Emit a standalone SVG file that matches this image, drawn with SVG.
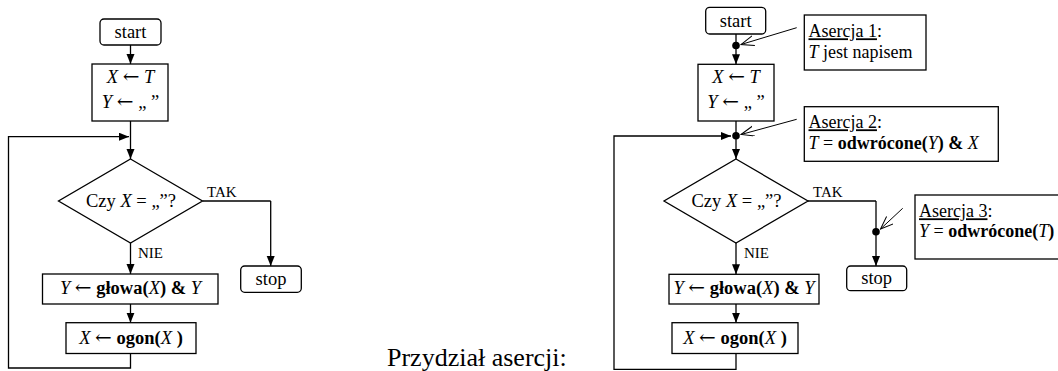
<svg xmlns="http://www.w3.org/2000/svg" width="1058" height="371" viewBox="0 0 1058 371">
<defs>
<marker id="ah" markerUnits="userSpaceOnUse" markerWidth="11" markerHeight="9" refX="10" refY="4" orient="auto">
<path d="M0,0 L10,4 L0,8 z" fill="#000"/>
</marker>
<marker id="oa" markerUnits="userSpaceOnUse" markerWidth="14" markerHeight="11" refX="13" refY="5" orient="auto">
<path d="M0,0 L13,5 L0,10" fill="none" stroke="#000" stroke-width="1"/>
</marker>
</defs>
<style>
text{font-family:"Liberation Serif","Times New Roman",serif;font-size:18.5px;fill:#000}
.c{text-anchor:middle}
.s{font-size:15px}
.a{font-size:18px}
.b{font-weight:bold}
.i{font-style:italic}
.u{text-decoration:underline}
.big{font-size:26px}
.arw{font-family:"DejaVu Serif","DejaVu Sans",serif;font-size:20px}
.n{fill:#fff;stroke:#000;stroke-width:1.3}
.ln{fill:none;stroke:#000;stroke-width:1.3}
.ar{marker-end:url(#ah)}
.pt{fill:none;stroke:#000;stroke-width:1;marker-end:url(#oa)}
</style>
<rect width="1058" height="371" fill="#fff"/>
<g id="connectors">
<path class="ln ar" d="M130.5,45 V64"/>
<path class="ln ar" d="M130.5,121 V159"/>
<path class="ln ar" d="M130.5,353.5 V368 H8.5 V136.7 H129"/>
<path class="ln" d="M202.5,201 H270.7"/>
<path class="ln ar" d="M270.7,201 V266"/>
<path class="ln ar" d="M130.5,243 V274"/>
<path class="ln ar" d="M130.5,304 V322.7"/>
<path class="ln ar" d="M736,34 V64.3"/>
<path class="ln ar" d="M736,121 V159"/>
<path class="ln ar" d="M736,353.5 V369.3 H614 V136 H731"/>
<path class="ln" d="M808,201 H876"/>
<path class="ln ar" d="M876,201 V266"/>
<path class="ln ar" d="M736,243 V274.3"/>
<path class="ln ar" d="M736,304 V322.7"/>
<circle cx="736" cy="45.5" r="3.8"/>
<circle cx="736" cy="135.7" r="3.8"/>
<circle cx="876" cy="231.7" r="3.8"/>
<path class="pt" d="M796.7,27.7 L741,44.5"/>
<path class="pt" d="M796.7,119.3 L741,134.5"/>
<path class="pt" d="M902.7,208.3 L880.5,229"/>
</g>
<g id="start1"><rect class="n" x="100" y="19" width="61" height="26" rx="4"/><text class="c" x="130.5" y="38">start</text></g>
<g id="init1"><rect class="n" x="92" y="64" width="76" height="57"/>
<text class="c" x="130.5" y="83"><tspan class="i">X</tspan> <tspan class="arw">←</tspan> <tspan class="i">T</tspan></text>
<text class="c" x="130.5" y="108"><tspan class="i">Y</tspan> <tspan class="arw">←</tspan> „ ”</text></g>
<g id="cond1"><path class="n" d="M130.5,159 L202.5,201 L130.5,243 L58.5,201 z"/>
<text class="c" x="131" y="207">Czy <tspan class="i">X</tspan> = „”?</text></g>
<g id="labels1"><text class="s" x="207" y="197">TAK</text><text class="s" x="138" y="258">NIE</text></g>
<g id="stop1"><rect class="n" x="240.7" y="266" width="60.6" height="26.3" rx="4"/><text class="c" x="271" y="285">stop</text></g>
<g id="head1"><rect class="n" x="42.5" y="274" width="175.5" height="30"/>
<text class="c" x="130.5" y="294"><tspan class="i">Y</tspan> <tspan class="arw">←</tspan> <tspan class="b">głowa(</tspan><tspan class="i">X</tspan><tspan class="b">) &amp; </tspan><tspan class="i">Y</tspan></text></g>
<g id="tail1"><rect class="n" x="66" y="322.7" width="130" height="30.8"/>
<text class="c" x="131" y="343.5"><tspan class="i">X</tspan> <tspan class="arw">←</tspan> <tspan class="b">ogon(</tspan><tspan class="i">X </tspan><tspan class="b">)</tspan></text></g>

<g id="caption"><text class="big" x="387" y="366">Przydział asercji:</text></g>

<g id="start2"><rect class="n" x="705.7" y="7.3" width="60" height="26.7" rx="4"/><text class="c" x="735.7" y="27">start</text></g>
<g id="init2"><rect class="n" x="698" y="64.3" width="76" height="56.7"/>
<text class="c" x="736" y="83"><tspan class="i">X</tspan> <tspan class="arw">←</tspan> <tspan class="i">T</tspan></text>
<text class="c" x="736" y="108"><tspan class="i">Y</tspan> <tspan class="arw">←</tspan> „ ”</text></g>
<g id="cond2"><path class="n" d="M736,159 L808,201 L736,243 L664,201 z"/>
<text class="c" x="736.5" y="207">Czy <tspan class="i">X</tspan> = „”?</text></g>
<g id="labels2"><text class="s" x="813" y="197">TAK</text><text class="s" x="744" y="258">NIE</text></g>
<g id="stop2"><rect class="n" x="846.7" y="266" width="60" height="24.7" rx="4"/><text class="c" x="876.7" y="284">stop</text></g>
<g id="head2"><rect class="n" x="669" y="274.3" width="150" height="29.7"/>
<text class="c" x="744" y="294"><tspan class="i">Y</tspan> <tspan class="arw">←</tspan> <tspan class="b">głowa(</tspan><tspan class="i">X</tspan><tspan class="b">) &amp; </tspan><tspan class="i">Y</tspan></text></g>
<g id="tail2"><rect class="n" x="672" y="322.7" width="126" height="30.8"/>
<text class="c" x="735" y="343.5"><tspan class="i">X</tspan> <tspan class="arw">←</tspan> <tspan class="b">ogon(</tspan><tspan class="i">X </tspan><tspan class="b">)</tspan></text></g>

<g id="assert1"><rect class="n" x="804.3" y="15" width="121.7" height="55"/>
<text class="a" x="808.5" y="37.3"><tspan class="u">Asercja 1</tspan>:</text>
<text class="a" x="808.5" y="58.3"><tspan class="i">T</tspan> jest napisem</text></g>
<g id="assert2"><rect class="n" x="804.3" y="106.7" width="194" height="54.6"/>
<text class="a" x="808.5" y="128.3"><tspan class="u">Asercja 2</tspan>:</text>
<text class="a" x="808.5" y="149.3"><tspan class="i">T</tspan> = <tspan class="b">odwrócone(</tspan><tspan class="i">Y</tspan><tspan class="b">) &amp; </tspan><tspan class="i">X</tspan></text></g>
<g id="assert3"><rect class="n" x="915" y="195" width="160" height="64"/>
<text class="a" x="919" y="217.3"><tspan class="u">Asercja 3</tspan>:</text>
<text class="a" x="919" y="236.7"><tspan class="i">Y</tspan> = <tspan class="b">odwrócone(</tspan><tspan class="i">T</tspan><tspan class="b">)</tspan></text></g>
</svg>
